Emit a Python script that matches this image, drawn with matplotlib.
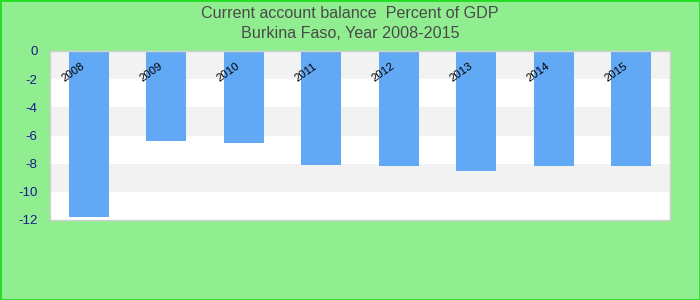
import matplotlib
matplotlib.use("Agg")
import matplotlib.pyplot as plt
from matplotlib.patches import Rectangle

years = ["2008", "2009", "2010", "2011", "2012", "2013", "2014", "2015"]
values = [-11.8, -6.4, -6.5, -8.1, -8.2, -8.5, -8.15, -8.15]
yticks = [0, -2, -4, -6, -8, -10, -12]

plt.rcParams['font.family'] = ['Liberation Sans', 'DejaVu Sans']

fig = plt.figure(figsize=(7, 3), dpi=100, facecolor='#90EE90')
ax = fig.add_axes([50/700, 80/300, 620/700, 169/300])
ax.set_facecolor('white')

# alternating bands
for k in range(0, 12, 4):
    ax.axhspan(-k, -k-2, color='#F2F2F2', zorder=0, lw=0)

x = list(range(len(years)))
ax.bar(x, values, width=0.52, color='#62A9F5', zorder=2)
ax.set_xlim(-0.5, len(years) - 0.5)
ax.set_ylim(-12, 0)
ax.set_yticks(yticks)
ax.set_yticklabels([str(t) for t in yticks], color='#1a1a8c', fontsize=9.5)
ax.tick_params(axis='y', length=0, pad=9)
ax.set_xticks([])
for s in ax.spines.values():
    s.set_color('#d0d0d0')
    s.set_linewidth(1)

for i, y in enumerate(years):
    ax.text(i - 0.2, -1.5, y, rotation=35, ha='center', va='center',
            fontsize=8.2, color='black', zorder=3)

fig.text(0.5, 0.955, "Current account balance  Percent of GDP", ha='center', va='center',
         fontsize=11.6, color='#4a4a4a')
fig.text(0.5, 0.888, "Burkina Faso, Year 2008-2015", ha='center', va='center',
         fontsize=11.6, color='#4a4a4a')

fig.patches.append(Rectangle((0, 0), 1, 1, transform=fig.transFigure, fill=False,
                             edgecolor='#22DD22', linewidth=2, zorder=10))

fig.savefig('out.png', dpi=100, facecolor=fig.get_facecolor())
